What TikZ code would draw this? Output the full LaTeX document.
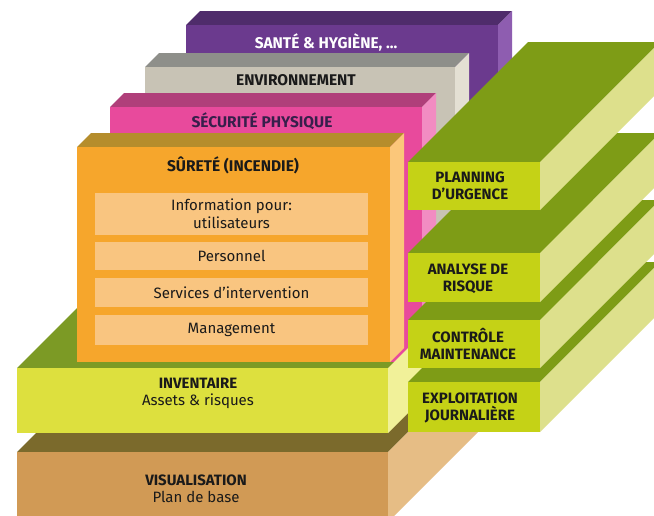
\documentclass[tikz,border=0pt]{standalone}
\usepackage{fontspec}
\setmainfont{Fira Sans}
\definecolor{purF}{HTML}{6B3A8E}
\definecolor{purT}{HTML}{4F2C6B}
\definecolor{purS}{HTML}{8E5DB0}
\definecolor{grayF}{HTML}{C8C3B5}
\definecolor{grayT}{HTML}{8E8F8A}
\definecolor{grayS}{HTML}{E4E0D3}
\definecolor{pinkF}{HTML}{E84A9C}
\definecolor{pinkT}{HTML}{B03F7A}
\definecolor{pinkS}{HTML}{F28CC2}
\definecolor{oraF}{HTML}{F6A62C}
\definecolor{oraT}{HTML}{B58D2C}
\definecolor{oraS}{HTML}{FBC77A}
\definecolor{oraI}{HTML}{F9C580}
\definecolor{invF}{HTML}{DDE03E}
\definecolor{invT}{HTML}{7C9A25}
\definecolor{invS}{HTML}{F1F199}
\definecolor{visF}{HTML}{D19A55}
\definecolor{visT}{HTML}{7B6A2C}
\definecolor{visS}{HTML}{E6BD85}
\definecolor{grnF}{HTML}{C5D216}
\definecolor{grnT}{HTML}{7E9C16}
\definecolor{grnS}{HTML}{DDE08C}
\definecolor{ink}{HTML}{1A1A1A}
% #1 xl, #2 yt, #3 xr, #4 yb, #5 depth, #6 front, #7 top, #8 side
\newcommand\blockbox[8]{%
  \fill[#7] (#1,#2) -- (#3,#2) -- ({#3+#5},{#2-#5}) -- ({#1+#5},{#2-#5}) -- cycle;
  \fill[#8] (#3,#2) -- ({#3+#5},{#2-#5}) -- ({#3+#5},{#4-#5}) -- (#3,#4) -- cycle;
  \fill[#6] (#1,#2) rectangle (#3,#4);
}
\tikzset{
  caplbl/.style={font=\fontsize{15.5}{17}\selectfont\bfseries, text=ink, align=center, inner sep=0pt},
  bodylbl/.style={font=\fontsize{15}{17}\selectfont, text=ink, align=center, inner sep=0pt},
  innerbox/.style={fill=oraI, minimum width=273pt, font=\fontsize{15}{18}\selectfont, text=ink, align=center, inner sep=0pt},
  grnlbl/.style={font=\fontsize{15}{17}\selectfont\bfseries, text=ink, align=center, inner sep=0pt},
}
\begin{document}
\begin{tikzpicture}[x=1pt,y=-1pt]
\useasboundingbox (0,0) rectangle (654,515);
\fill[white] (0,0) rectangle (654,515);
\clip (0,0) rectangle (654,515);
% base slab
\blockbox{17}{452}{388}{522}{100}{visF}{visT}{visS}
% inventaire top face
\fill[invT] (17,368) -- (388,368) -- (488,268) -- (117,268) -- cycle;
% left stack
\blockbox{186}{25}{498}{362}{14}{purF}{purT}{purS}
\blockbox{145}{67}{455}{362}{14}{grayF}{grayT}{grayS}
\blockbox{110}{107}{422}{362}{14}{pinkF}{pinkT}{pinkS}
\blockbox{77}{147}{390}{362}{14}{oraF}{oraT}{oraS}
% inventaire side and front
\fill[invS] (388,368) -- (488,268) -- (488,333) -- (388,433) -- cycle;
\fill[invF] (17,368) rectangle (388,433);
% green column
\blockbox{408}{382}{540}{432}{120}{grnF}{grnT}{grnS}
\blockbox{408}{320}{540}{368}{120}{grnF}{grnT}{grnS}
\blockbox{408}{253}{540}{302}{120}{grnF}{grnT}{grnS}
\blockbox{408}{162}{540}{210}{120}{grnF}{grnT}{grnS}
% labels
\node[caplbl, text=white] (sante) at (326,42) {SANTÉ \& HYGIÈNE, ...};
\node[caplbl] (env) at (296,80) {ENVIRONNEMENT};
\node[caplbl, text=purT!70!black] (secu) at (262,121) {SÉCURITÉ PHYSIQUE};
\node[caplbl] (surete) at (233,165) {SÛRETÉ (INCENDIE)};
\node[innerbox, minimum height=42pt] (info) at (231.5,214) {Information pour:\\utilisateurs};
\node[innerbox, minimum height=28pt] (pers) at (231.5,256) {Personnel};
\node[innerbox, minimum height=29pt] (serv) at (231.5,292.5) {Services d’intervention};
\node[innerbox, minimum height=30pt] (mgmt) at (231.5,330) {Management};
\node[bodylbl] (inv) at (198,393.5) {{\bfseries INVENTAIRE}\\Assets \& risques};
\node[bodylbl] (vis) at (196,488.5) {{\bfseries VISUALISATION}\\Plan de base};
\node[grnlbl] (plan) at (470,185.5) {PLANNING\\D’URGENCE};
\node[grnlbl] (anal) at (468,278.5) {ANALYSE DE\\RISQUE};
\node[grnlbl] (ctrl) at (468,344) {CONTRÔLE\\MAINTENANCE};
\node[grnlbl] (expl) at (470,408) {EXPLOITATION\\JOURNALIÈRE};
\end{tikzpicture}
\end{document}
